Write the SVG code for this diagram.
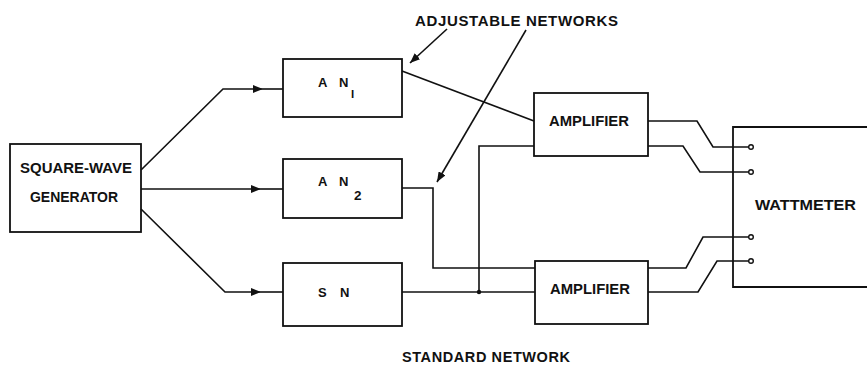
<svg xmlns="http://www.w3.org/2000/svg" width="867" height="366" viewBox="0 0 867 366">
  <style>
    .box { fill: none; stroke: #111; stroke-width: 1.8; }
    .wire { fill: none; stroke: #111; stroke-width: 1.6; stroke-linejoin: miter; }
    .lbl { font-family: "Liberation Sans", Arial, sans-serif; font-weight: bold; fill: #111; }
    .term { fill: #fff; stroke: #111; stroke-width: 1.4; }
  </style>
  <defs>
    <marker id="tip" viewBox="0 0 10 8" refX="10" refY="4" markerWidth="10" markerHeight="8" markerUnits="userSpaceOnUse" orient="auto">
      <path d="M0,0 L10,4 L0,8 Z" fill="#111"/>
    </marker>
  </defs>
  <rect width="867" height="366" fill="#fff"/>

  <!-- connectors -->
  <g id="connectors">
    <!-- generator to the three networks -->
    <polyline class="wire" points="141,170 223,89 263,89" marker-end="url(#tip)"/>
    <line class="wire" x1="263" y1="89" x2="283" y2="89"/>
    <line class="wire" x1="141" y1="189" x2="261" y2="189" marker-end="url(#tip)"/>
    <line class="wire" x1="261" y1="189" x2="283" y2="189"/>
    <polyline class="wire" points="141,209 225,292 261,292" marker-end="url(#tip)"/>
    <line class="wire" x1="261" y1="292" x2="283" y2="292"/>
    <!-- networks to amplifiers -->
    <line class="wire" x1="402" y1="71" x2="534" y2="121"/>
    <polyline class="wire" points="534,146 479,146 479,292"/>
    <polyline class="wire" points="402,188 433,188 433,268 535,268"/>
    <line class="wire" x1="402" y1="292" x2="535" y2="292"/>
    <circle cx="479" cy="292" r="2.2" fill="#111"/>
    <!-- amplifiers to wattmeter -->
    <polyline class="wire" points="648,121 697,121 713,147 749,147"/>
    <polyline class="wire" points="648,146 683,146 700,172 749,172"/>
    <polyline class="wire" points="648,268 686,268 703,237 749,237"/>
    <polyline class="wire" points="648,292 698,292 717,261 749,261"/>
    <!-- label pointers -->
    <line class="wire" x1="447" y1="29" x2="410" y2="63" marker-end="url(#tip)"/>
    <line class="wire" x1="526" y1="30" x2="437" y2="182" marker-end="url(#tip)"/>
  </g>

  <g id="generator">
    <rect class="box" x="10" y="144" width="131" height="88"/>
    <text class="lbl" x="20" y="173" font-size="14" textLength="112" lengthAdjust="spacingAndGlyphs">SQUARE-WAVE</text>
    <text class="lbl" x="30" y="202" font-size="14" textLength="88" lengthAdjust="spacingAndGlyphs">GENERATOR</text>
  </g>

  <g id="an1">
    <rect class="box" x="283" y="59" width="119" height="58"/>
    <text class="lbl" x="318" y="87" font-size="13">A</text>
    <text class="lbl" x="339" y="87" font-size="13">N</text>
    <text class="lbl" x="351" y="98" font-size="11.5">I</text>
  </g>

  <g id="an2">
    <rect class="box" x="283" y="159" width="119" height="59"/>
    <text class="lbl" x="318" y="186" font-size="13">A</text>
    <text class="lbl" x="339" y="186" font-size="13">N</text>
    <text class="lbl" x="354" y="200" font-size="13.5">2</text>
  </g>

  <g id="sn">
    <rect class="box" x="283" y="263" width="119" height="63"/>
    <text class="lbl" x="318" y="297" font-size="13">S</text>
    <text class="lbl" x="340" y="297" font-size="13">N</text>
  </g>

  <g id="amp1">
    <rect class="box" x="534" y="93" width="114" height="63"/>
    <text class="lbl" x="549" y="126" font-size="14.5" textLength="80" lengthAdjust="spacingAndGlyphs">AMPLIFIER</text>
  </g>

  <g id="amp2">
    <rect class="box" x="535" y="261" width="113" height="63"/>
    <text class="lbl" x="550" y="294" font-size="14.5" textLength="80" lengthAdjust="spacingAndGlyphs">AMPLIFIER</text>
  </g>

  <g id="wattmeter">
    <polyline class="box" points="870,127 733,127 733,287 870,287"/>
    <circle class="term" cx="751" cy="147" r="2.3"/>
    <circle class="term" cx="751" cy="172" r="2.3"/>
    <circle class="term" cx="751" cy="237" r="2.3"/>
    <circle class="term" cx="751" cy="261" r="2.3"/>
    <text class="lbl" x="755" y="210" font-size="15.5" textLength="101" lengthAdjust="spacingAndGlyphs">WATTMETER</text>
  </g>

  <g id="labels">
    <text class="lbl" x="415" y="26" font-size="15" textLength="203" lengthAdjust="spacing">ADJUSTABLE NETWORKS</text>
    <text class="lbl" x="402" y="362" font-size="14.5" textLength="168" lengthAdjust="spacing">STANDARD NETWORK</text>
  </g>
</svg>
